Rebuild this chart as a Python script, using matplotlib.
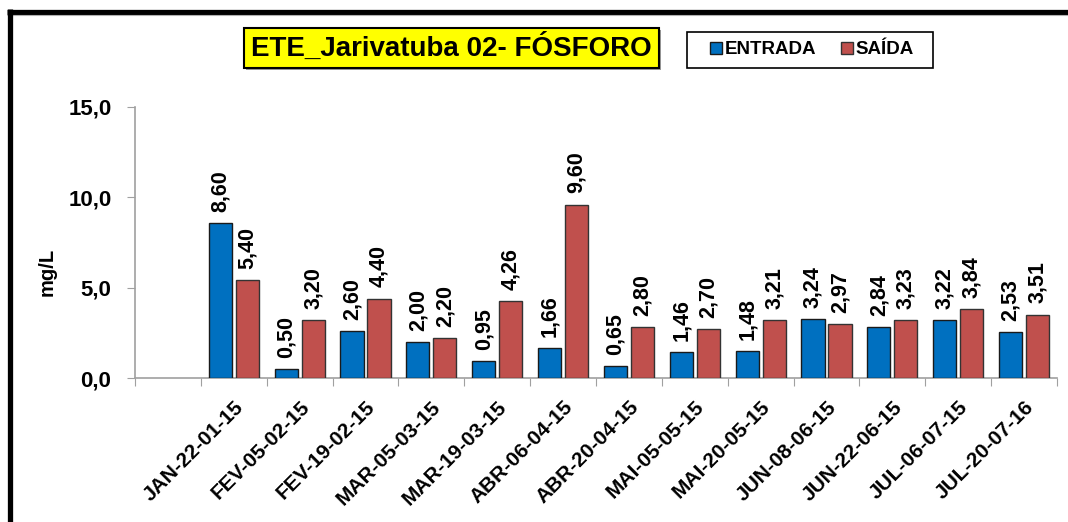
import matplotlib
matplotlib.use("Agg")
import matplotlib.pyplot as plt
from matplotlib.lines import Line2D
from matplotlib.patches import Rectangle
import numpy as np

plt.rcParams['font.family'] = ['Liberation Sans', 'DejaVu Sans']
plt.rcParams['font.weight'] = 'bold'

categories = ["", "JAN-22-01-15", "FEV-05-02-15", "FEV-19-02-15", "MAR-05-03-15",
              "MAR-19-03-15", "ABR-06-04-15", "ABR-20-04-15", "MAI-05-05-15",
              "MAI-20-05-15", "JUN-08-06-15", "JUN-22-06-15", "JUL-06-07-15",
              "JUL-20-07-16"]
entrada = [None, 8.60, 0.50, 2.60, 2.00, 0.95, 1.66, 0.65, 1.46, 1.48, 3.24, 2.84, 3.22, 2.53]
saida = [None, 5.40, 3.20, 4.40, 2.20, 4.26, 9.60, 2.80, 2.70, 3.21, 2.97, 3.23, 3.84, 3.51]
yticks = [0, 5, 10, 15]
ytick_labels = ["0,0", "5,0", "10,0", "15,0"]
title = "ETE_Jarivatuba 02- FÓSFORO"
series_names = ["ENTRADA", "SAÍDA"]
colors = ["#0070C0", "#C0504D"]

W, H = 1068, 522
fig = plt.figure(figsize=(W / 100, H / 100), dpi=100)
fig.patch.set_facecolor("white")
ax = fig.add_axes([135 / W, 1 - 378 / H, (1057 - 135) / W, (378 - 107) / H])

x = np.arange(len(categories))
idx = [i for i in range(len(categories)) if entrada[i] is not None]
e_vals = [entrada[i] for i in idx]
s_vals = [saida[i] for i in idx]
xi = np.array(idx, dtype=float)
bw = 0.35
b1 = ax.bar(xi - 0.205, e_vals, bw, color=colors[0], edgecolor="#1a1a1a", linewidth=1.0,
            label=series_names[0], zorder=3)
b2 = ax.bar(xi + 0.205, s_vals, bw, color=colors[1], edgecolor="#333333", linewidth=1.0,
            label=series_names[1], zorder=3)

def fmt(v):
    return f"{v:.2f}".replace(".", ",")

for bars, vals in ((b1, e_vals), (b2, s_vals)):
    for r, v in zip(bars, vals):
        ax.annotate(fmt(v), (r.get_x() + r.get_width() / 2, v), xytext=(0, 8),
                    textcoords="offset points", rotation=90, ha="center", va="bottom",
                    fontsize=15.5, fontweight="bold", annotation_clip=False)

ax.set_xlim(-0.5, len(categories) - 0.5)
ax.set_ylim(0, 15)
ax.set_yticks(yticks)
ax.set_yticklabels(ytick_labels, fontsize=16, fontweight="bold")
ax.set_xticks(np.arange(-0.5, len(categories), 1.0))
ax.set_xticklabels([])
ax.set_xticks(x[1:], minor=True)
ax.set_xticklabels(categories[1:], minor=True, rotation=45, ha="right",
                   rotation_mode="anchor", fontsize=15, fontweight="bold")
ax.tick_params(axis="x", which="major", length=6, color="#A0A0A0", direction="out")
ax.tick_params(axis="x", which="minor", length=0, pad=14)
ax.tick_params(axis="y", length=6, color="#A0A0A0", direction="out", pad=11)
for s in ["top", "right"]:
    ax.spines[s].set_visible(False)
for s in ["left", "bottom"]:
    ax.spines[s].set_color("#A0A0A0")
    ax.spines[s].set_linewidth(1.2)

fig.text(47 / W, 1 - 272 / H, "mg/L", rotation=90, ha="center", va="center",
         fontsize=14.5, fontweight="bold")

# title box
fig.add_artist(Rectangle((246 / W, 1 - 70 / H), (659 - 244) / W, 40 / H,
                         transform=fig.transFigure, facecolor="#9a9a9a", edgecolor="none"))
fig.add_artist(Rectangle((244 / W, 1 - 68 / H), (659 - 244) / W, 40 / H,
                         transform=fig.transFigure, facecolor="#FFFF00", edgecolor="black",
                         linewidth=1.5))
fig.text((244 + 659) / 2 / W, 1 - 48 / H, title, ha="center", va="center",
         fontsize=20, fontweight="bold")

# legend box
fig.add_artist(Rectangle((687 / W, 1 - 68 / H), (933 - 687) / W, 36 / H,
                         transform=fig.transFigure, facecolor="white", edgecolor="black",
                         linewidth=1.2))
leg = fig.legend(handles=[b1, b2], labels=series_names, ncol=2,
                 loc="center", bbox_to_anchor=(812 / W, 1 - 50 / H),
                 frameon=False, prop=dict(size=13.5, weight="bold"),
                 handlelength=0.65, handleheight=0.65,
                 handletextpad=0.15, columnspacing=1.3, borderpad=0.3,
                 borderaxespad=0)

# outer frame (top and left)
fig.add_artist(Line2D([7 / W, 1.0], [1 - 11.5 / H, 1 - 11.5 / H], color="black",
                      linewidth=3.8, transform=fig.transFigure, solid_capstyle="butt"))
fig.add_artist(Line2D([7 / W, 1.0], [1 - 14.5 / H, 1 - 14.5 / H], color="#b0b0b0",
                      linewidth=0.8, transform=fig.transFigure, solid_capstyle="butt"))
fig.add_artist(Line2D([9.5 / W, 9.5 / W], [1 - 9 / H, 0], color="black",
                      linewidth=3.8, transform=fig.transFigure, solid_capstyle="butt"))

fig.savefig("out.png", dpi=100, facecolor="white")
